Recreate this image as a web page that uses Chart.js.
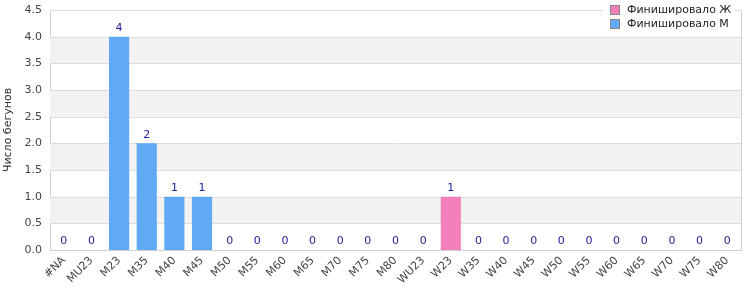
<!DOCTYPE html>
<html><head><meta charset="utf-8">
<script src="https://cdn.jsdelivr.net/npm/chart.js@4"></script>
<style>html,body{margin:0;padding:0;background:#fff}#wrap{width:750px;height:300px}</style>
</head><body><div id="wrap"><canvas id="c" width="750" height="300"></canvas></div>
<script>
const categories = ['#NA','MU23','M23','M35','M40','M45','M50','M55','M60','M65','M70','M75','M80','WU23','W23','W35','W40','W45','W50','W55','W60','W65','W70','W75','W80'];
const womenFinished = [0,0,0,0,0,0,0,0,0,0,0,0,0,0,1,0,0,0,0,0,0,0,0,0,0];
const menFinished   = [0,0,4,2,1,1,0,0,0,0,0,0,0,0,0,0,0,0,0,0,0,0,0,0,0];
const seriesNames = ['Финишировало Ж','Финишировало М'];
const yTitle = 'Число бегунов';
const FONT = "'DejaVu Sans', sans-serif";
const colors = ['#f281bb','#60a9f4'];

const bandsPlugin = {
  id:'bands',
  beforeDatasetsDraw(chart){
    const {ctx, chartArea:a, scales:{y}} = chart;
    ctx.save();
    ctx.fillStyle = '#f2f2f2';
    for (let v = 0.5; v < 4.5; v += 1) {
      const y1 = y.getPixelForValue(v+0.5), y2 = y.getPixelForValue(v);
      ctx.fillRect(a.left, y1, a.right-a.left, y2-y1);
    }
    ctx.restore();
  }
};
const gridPlugin = {
  id:'gridover',
  beforeDatasetsDraw(chart){
    const {ctx, chartArea:a, scales:{y}} = chart;
    ctx.save();
    ctx.strokeStyle = '#dcdcdc'; ctx.lineWidth = 1;
    for (let v = 0.5; v <= 4.5; v += 0.5) {
      const py = Math.round(y.getPixelForValue(v)) + 0.5;
      ctx.beginPath(); ctx.moveTo(a.left, py); ctx.lineTo(a.right, py); ctx.stroke();
    }
    ctx.strokeStyle = '#d0d0d0';
    ctx.beginPath(); ctx.moveTo(Math.round(a.right)+0.5, a.top); ctx.lineTo(Math.round(a.right)+0.5, a.bottom); ctx.stroke();
    ctx.restore();
  }
};
const labelsPlugin = {
  id:'totals',
  afterDatasetsDraw(chart){
    const {ctx, scales:{x,y}} = chart;
    ctx.save();
    ctx.fillStyle = '#22229a';
    ctx.font = '11px ' + FONT;
    ctx.textAlign = 'center'; ctx.textBaseline = 'bottom';
    categories.forEach((c,i)=>{
      const t = womenFinished[i] + menFinished[i];
      ctx.fillText(String(t), x.getPixelForValue(i), y.getPixelForValue(t) - 3);
    });
    ctx.restore();
  }
};
const legendPlugin = {
  id:'boxlegend',
  afterDraw(chart){
    const {ctx} = chart;
    ctx.save();
    ctx.fillStyle = '#fff';
    ctx.fillRect(603, 0, 132, 33);
    ctx.font = '11px ' + FONT;
    ctx.textBaseline = 'middle'; ctx.textAlign = 'left';
    seriesNames.forEach((n,i)=>{
      const yy = 10 + i*14;
      ctx.fillStyle = colors[i];
      ctx.fillRect(610.5, yy-4.5, 9, 9);
      ctx.strokeStyle = '#888'; ctx.lineWidth = 1;
      ctx.strokeRect(610.5, yy-4.5, 9, 9);
      ctx.fillStyle = '#222';
      ctx.fillText(n, 627, yy);
    });
    ctx.restore();
  }
};

new Chart(document.getElementById('c'), {
  type:'bar',
  data:{
    labels: categories,
    datasets:[
      {label: seriesNames[0], data: womenFinished, backgroundColor: colors[0], barPercentage:0.73, categoryPercentage:1},
      {label: seriesNames[1], data: menFinished, backgroundColor: colors[1], barPercentage:0.73, categoryPercentage:1}
    ]
  },
  options:{
    responsive:false, animation:false,
    layout:{padding:{top:10,right:9,left:2,bottom:0}},
    plugins:{legend:{display:false}, tooltip:{enabled:false}},
    scales:{
      x:{stacked:true,
        grid:{display:false, drawTicks:false},
        border:{display:true,color:'#cfcfcf'},
        ticks:{color:'#444', font:{family:FONT,size:11}, minRotation:45, maxRotation:45, autoSkip:false, padding:4},
        afterFit(s){ s.height = 50; s.paddingLeft = 0; s.paddingRight = 0; }
      },
      y:{stacked:true, min:0, max:4.5,
        grid:{display:false, drawTicks:false},
        border:{display:true,color:'#cfcfcf'},
        ticks:{stepSize:0.5, color:'#444', font:{family:FONT,size:11}, padding:8, callback:v=>v.toFixed(1)},
        title:{display:true, text:yTitle, color:'#333', font:{family:FONT,size:11}, padding:0},
        afterFit(s){ s.width = 48; s.paddingTop = 0; s.paddingBottom = 0; }
      }
    }
  },
  plugins:[bandsPlugin, gridPlugin, labelsPlugin, legendPlugin]
});
</script></body></html>
